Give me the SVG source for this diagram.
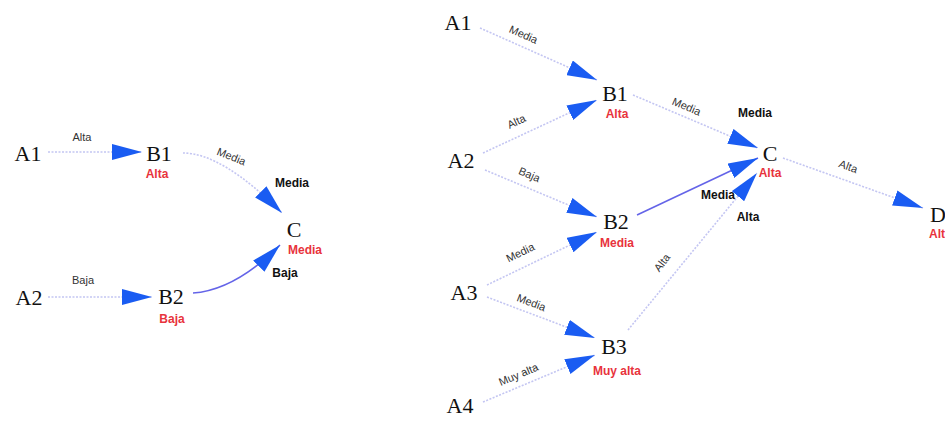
<svg xmlns="http://www.w3.org/2000/svg" width="945" height="425" viewBox="0 0 945 425">
  <style>
    .node { font-family: "Liberation Serif", "Times New Roman", serif; font-size: 22px; fill: #111; text-anchor: middle; }
    .state { font-family: "Liberation Sans", Arial, sans-serif; font-size: 12px; font-weight: bold; fill: #e8333c; text-anchor: middle; }
    .port { font-family: "Liberation Sans", Arial, sans-serif; font-size: 12px; font-weight: bold; fill: #111; text-anchor: middle; }
    .elabel { font-family: "Liberation Sans", Arial, sans-serif; font-size: 11px; fill: #333; text-anchor: middle; }
    .edge { fill: none; stroke: #c4c6f2; stroke-width: 1.6; stroke-dasharray: 2 1.5; marker-end: url(#head); }
    .edge.strong { stroke: #6464e8; stroke-dasharray: none; }
  </style>
  <defs>
    <marker id="head" markerUnits="userSpaceOnUse" markerWidth="30" markerHeight="16" refX="30" refY="8" orient="auto">
      <path d="M0,0 L30,8 L0,16 Z" fill="#1a5cf2"/>
    </marker>
  </defs>
  <rect width="945" height="425" fill="#fff"/>

  <!-- connectors -->
  <g id="connectors">
    <!-- left network -->
    <path class="edge" d="M48,152 L142,152"/>
    <path class="edge" d="M48,297 L152,297"/>
    <path class="edge" d="M183,153 Q222,153 282,213"/>
    <path class="edge strong" d="M193,293 Q235,290 280,245"/>
    <text class="elabel" x="82" y="141">Alta</text>
    <text class="elabel" x="83" y="284">Baja</text>
    <text class="elabel" transform="translate(230,160) rotate(22)">Media</text>

    <!-- right network -->
    <path class="edge" d="M480,28 L597,80"/>
    <path class="edge" d="M483,153 L597,100"/>
    <path class="edge" d="M485,170 L597,217"/>
    <path class="edge" d="M487,285 L597,232"/>
    <path class="edge" d="M487,297 L595,338"/>
    <path class="edge" d="M483,402 L595,355"/>
    <path class="edge" d="M633,95 L758,148"/>
    <path class="edge strong" d="M637,215 L758,158"/>
    <path class="edge" d="M628,330 L757,173"/>
    <path class="edge" d="M783,158 L923,208"/>
    <text class="elabel" transform="translate(522,38) rotate(24)">Media</text>
    <text class="elabel" transform="translate(518,125) rotate(-25)">Alta</text>
    <text class="elabel" transform="translate(528,178) rotate(23)">Baja</text>
    <text class="elabel" transform="translate(522,256) rotate(-26)">Media</text>
    <text class="elabel" transform="translate(530,306) rotate(21)">Media</text>
    <text class="elabel" transform="translate(520,378) rotate(-23)">Muy alta</text>
    <text class="elabel" transform="translate(685,110) rotate(23)">Media</text>
    <text class="elabel" transform="translate(665,265) rotate(-52)">Alta</text>
    <text class="elabel" transform="translate(847,170) rotate(20)">Alta</text>
  </g>

  <!-- left network nodes -->
  <g id="l-a1"><text class="node" x="28" y="161">A1</text></g>
  <g id="l-a2"><text class="node" x="29" y="305">A2</text></g>
  <g id="l-b1">
    <text class="node" x="159" y="161">B1</text>
    <text class="state" x="157" y="178">Alta</text>
  </g>
  <g id="l-b2">
    <text class="node" x="171" y="304">B2</text>
    <text class="state" x="172" y="323">Baja</text>
  </g>
  <g id="l-c">
    <text class="port" x="292" y="187">Media</text>
    <text class="node" x="294" y="237">C</text>
    <text class="state" x="305" y="254">Media</text>
    <text class="port" x="285" y="277">Baja</text>
  </g>

  <!-- right network nodes -->
  <g id="r-a1"><text class="node" x="458" y="30">A1</text></g>
  <g id="r-a2"><text class="node" x="461" y="168">A2</text></g>
  <g id="r-a3"><text class="node" x="464" y="300">A3</text></g>
  <g id="r-a4"><text class="node" x="460" y="413">A4</text></g>
  <g id="r-b1">
    <text class="node" x="615" y="101">B1</text>
    <text class="state" x="617" y="118">Alta</text>
  </g>
  <g id="r-b2">
    <text class="node" x="616" y="229">B2</text>
    <text class="state" x="617" y="247">Media</text>
  </g>
  <g id="r-b3">
    <text class="node" x="614" y="354">B3</text>
    <text class="state" x="617" y="375">Muy alta</text>
  </g>
  <g id="r-c">
    <text class="port" x="755" y="117">Media</text>
    <text class="node" x="770" y="161">C</text>
    <text class="state" x="770" y="177">Alta</text>
    <text class="port" x="718" y="199">Media</text>
    <text class="port" x="748" y="221">Alta</text>
  </g>
  <g id="r-d">
    <text class="node" x="930" y="222" style="text-anchor:start">D</text>
    <text class="state" x="929" y="238" style="text-anchor:start">Alta</text>
  </g>
</svg>
